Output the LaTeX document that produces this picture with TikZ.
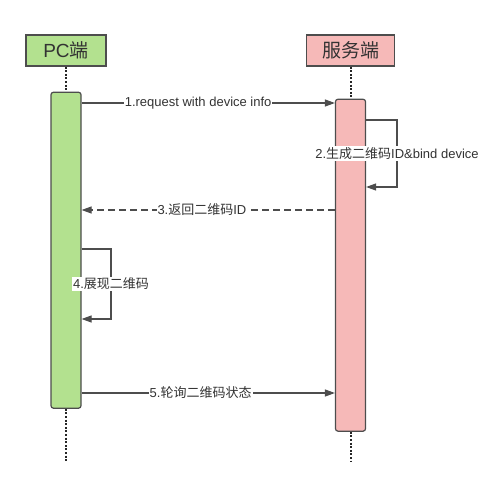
\documentclass[tikz,border=0pt]{standalone}
\usepackage{fontspec}
\setmainfont{Liberation Sans}
\newfontfamily\cjk{Noto Sans CJK SC}
\usepackage{tikz}
\usetikzlibrary{arrows.meta,positioning}
\definecolor{pcgreen}{HTML}{B3E18F}
\definecolor{srvpink}{HTML}{F6B9B8}
\definecolor{edge}{HTML}{4D4D4D}
\definecolor{ink}{HTML}{333333}
\newcommand{\zh}[1]{{\cjk #1}}
\tikzstyle{actor} = [draw=edge,line width=1.2pt,minimum height=31pt,inner sep=0pt,font=\fontsize{19}{21}\selectfont,text=ink]
\tikzstyle{activation} = [draw=edge,line width=1.2pt,rounded corners=2.5pt,minimum width=30pt,inner sep=0pt]
\tikzstyle{lifeline} = [black!85,line width=2pt,dash pattern=on 2pt off 1.6pt]
\tikzstyle{msg} = [edge,line width=1.2pt,-{Triangle[length=10pt,width=7pt]}]
\tikzstyle{reply} = [msg,dash pattern=on 7pt off 4pt]
\tikzstyle{lbl} = [fill=white,inner sep=1pt,font=\fontsize{13}{15}\selectfont,text=ink]

\begin{document}
\begin{tikzpicture}[x=1pt,y=-1pt]
    \useasboundingbox (0,0) rectangle (489,492);
    % participants
    \node[actor,fill=pcgreen,minimum width=80pt] (pc) at (66,50.5) {PC\zh{端}};
    \node[actor,fill=srvpink,minimum width=88pt] (srv) at (350.5,50.5) {\zh{服务端}};
    \node[activation,fill=pcgreen,minimum height=316pt,below=25pt of pc] (pcact) {};
    \node[activation,fill=srvpink,minimum height=332pt,below=32pt of srv] (srvact) {};
    \coordinate (pcend) at (pcact.south |- 0,462);
    \coordinate (srvend) at (srvact.south |- 0,462);
    % lifelines
    \draw[lifeline] (pc.south) -- (pcact.north);
    \draw[lifeline] (pcact.south) -- (pcend);
    \draw[lifeline] (srv.south) -- (srvact.north);
    \draw[lifeline] (srvact.south) -- (srvend);
    % messages
    \draw[msg] (pcact.east |- 0,103) -- node[lbl,pos=0.46]{1.request with device info} (srvact.west |- 0,103);
    \draw[msg] (srvact.east |- 0,120) -- (397,120) -- node[lbl]{2.\zh{生成二维码}ID\&bind device} (397,187) -- (srvact.east |- 0,187);
    \draw[reply] (srvact.west |- 0,210) -- node[lbl,pos=0.525]{3.\zh{返回二维码}ID} (pcact.east |- 0,210);
    \draw[msg] (pcact.east |- 0,249) -- (111,249) -- node[lbl]{4.\zh{展现二维码}} (111,319) -- (pcact.east |- 0,319);
    \draw[msg] (pcact.east |- 0,393) -- node[lbl,pos=0.47]{5.\zh{轮询二维码状态}} (srvact.west |- 0,393);
\end{tikzpicture}
\end{document}
